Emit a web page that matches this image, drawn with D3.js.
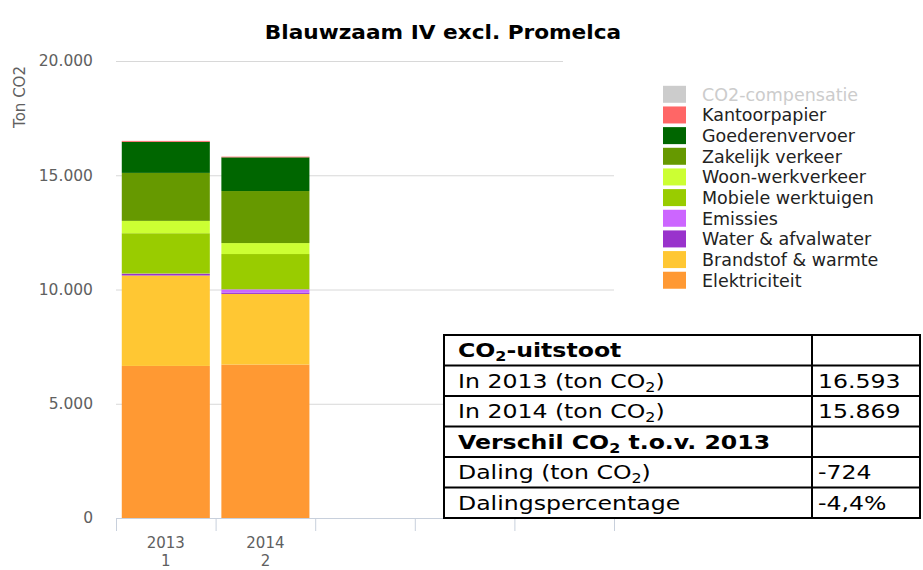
<!DOCTYPE html>
<html>
<head>
<meta charset="utf-8">
<script src="https://cdn.jsdelivr.net/npm/d3@7"></script>
<style>
  body { margin: 0; background: #fff; }
  svg { display: block; font-family: "DejaVu Sans", Verdana, sans-serif; }
</style>
</head>
<body>
<div id="chart"></div>
<script>
// categorieen op de x-as (jaar + volgnummer)
const years = ["2013", "2014", "", "", ""];
const yearNumbers = ["1", "2", "", "", ""];
const yTicks = [0, 5000, 10000, 15000, 20000];

// bronnen, onderaan de stapel eerst
const sources = ["Elektriciteit", "Brandstof & warmte", "Water & afvalwater", "Emissies",
  "Mobiele werktuigen", "Woon-werkverkeer", "Zakelijk verkeer", "Goederenvervoer",
  "Kantoorpapier", "CO2-compensatie"];
const colors = ["#ff9933", "#ffc733", "#9933cc", "#cc66ff",
  "#99cc00", "#ccff33", "#669900", "#006600",
  "#ff6666", "#cccccc"];

// ton CO2 per bron: [2013, 2014]
const elektriciteit = [6655, 6716];
const brandstof = [3958, 3091];
const water = [70, 60];
const emissies = [15, 140];
const mobiel = [1765, 1545];
const woonWerk = [540, 480];
const zakelijk = [2100, 2277];
const goederen = [1360, 1475];
const kantoorpapier = [40, 30];
const compensatie = [0, 0];   // verborgen reeks
const hidden = ["CO2-compensatie"];

// tabel rechtsonder
const tableLabels = ["CO₂-uitstoot", "In 2013 (ton CO₂)", "In 2014 (ton CO₂)",
  "Verschil CO₂ t.o.v. 2013", "Daling (ton CO₂)", "Dalingspercentage"];
const tableValues = ["", "16.593", "15.869", "", "-724", "-4,4%"];
const tableBold = [true, false, false, true, false, false];

const W = 923, H = 570;
const seriesValues = [elektriciteit, brandstof, water, emissies, mobiel, woonWerk,
  zakelijk, goederen, kantoorpapier, compensatie];

const rows = years.slice(0, 2).map((y, i) => {
  const r = { key: y + "|" + i };
  sources.forEach((s, j) => r[s] = hidden.includes(s) ? 0 : seriesValues[j][i]);
  return r;
});

const svg = d3.select("#chart").append("svg")
  .attr("width", W).attr("height", H);

const x = d3.scaleBand()
  .domain(years.map((y, i) => y + "|" + i))
  .range([116, 614])
  .paddingInner(0.116)
  .paddingOuter(0.058);

const y = d3.scaleLinear().domain([0, 20000]).range([518, 61]);
const fmt = d => d3.format(",")(d).replace(/,/g, ".");

// rasterlijnen
svg.append("g").selectAll("line")
  .data(yTicks.slice(1))
  .join("line")
  .attr("x1", 116).attr("x2", 614)
  .attr("y1", d => y(d) + 0.5).attr("y2", d => y(d) + 0.5)
  .attr("stroke", "#d8d8d8");

// y-as labels
svg.append("g").selectAll("text")
  .data(yTicks)
  .join("text")
  .attr("x", 93).attr("y", d => y(d))
  .attr("dy", "0.35em")
  .attr("text-anchor", "end")
  .attr("font-size", 15.5)
  .attr("fill", "#606060")
  .text(fmt);

svg.append("text")
  .attr("transform", "translate(25,97) rotate(-90)")
  .attr("text-anchor", "middle")
  .attr("font-size", 15)
  .attr("fill", "#606060")
  .text("Ton CO2");

// gestapelde balken
const stack = d3.stack().keys(sources)(rows);
svg.append("g").selectAll("g")
  .data(stack)
  .join("g")
  .attr("fill", (d, i) => colors[i])
  .selectAll("rect")
  .data(d => d)
  .join("rect")
  .attr("x", d => x(d.data.key))
  .attr("width", x.bandwidth())
  .attr("y", d => y(d[1]))
  .attr("height", d => y(d[0]) - y(d[1]));

// x-as
const step = x.step();
svg.append("line")
  .attr("x1", 116).attr("x2", 614)
  .attr("y1", 518.5).attr("y2", 518.5)
  .attr("stroke", "#c8d0dc");
svg.append("g").selectAll("line")
  .data(d3.range(years.length + 1))
  .join("line")
  .attr("x1", i => 116.5 + i * step).attr("x2", i => 116.5 + i * step)
  .attr("y1", 518).attr("y2", 531)
  .attr("stroke", "#c8d0dc");

const xl = svg.append("g").selectAll("text")
  .data(years.map((yy, i) => ({ key: yy + "|" + i, year: yy, nr: yearNumbers[i] })))
  .join("text")
  .attr("text-anchor", "middle")
  .attr("font-size", 15)
  .attr("fill", "#606060");
xl.append("tspan")
  .attr("x", d => x(d.key) + x.bandwidth() / 2).attr("y", 548)
  .text(d => d.year);
xl.append("tspan")
  .attr("x", d => x(d.key) + x.bandwidth() / 2).attr("y", 566)
  .text(d => d.nr);

// titel
svg.append("text")
  .attr("transform", "translate(443,39) scale(1.14,1)")
  .attr("text-anchor", "middle")
  .attr("font-size", 19)
  .attr("font-weight", "bold")
  .attr("fill", "#000")
  .text("Blauwzaam IV excl. Promelca");

// legenda (bovenste reeks eerst)
svg.append("rect")
  .attr("x", 563).attr("y", 52).attr("width", 360).attr("height", 20)
  .attr("fill", "#fff");
const legendItems = sources.map((s, i) => ({ name: s, color: colors[i] })).reverse();
const lg = svg.append("g").selectAll("g")
  .data(legendItems)
  .join("g")
  .attr("transform", (d, i) => `translate(663,${94.3 + i * 20.66})`);
lg.append("rect")
  .attr("x", 0).attr("y", -8.5)
  .attr("width", 23).attr("height", 17)
  .attr("fill", d => d.color);
lg.append("text")
  .attr("x", 39).attr("dy", "0.36em")
  .attr("font-size", 17.5)
  .attr("fill", d => hidden.includes(d.name) ? "#cccccc" : "#222")
  .text(d => d.name);

// tabel
const tx0 = 444, tx1 = 812, tx2 = 920, ty0 = 335, rowH = 30.5;
const tbl = svg.append("g");
tbl.append("rect")
  .attr("x", tx0).attr("y", ty0)
  .attr("width", tx2 - tx0).attr("height", rowH * tableLabels.length)
  .attr("fill", "#fff").attr("stroke", "#000").attr("stroke-width", 2);
tbl.selectAll("line.row")
  .data(d3.range(1, tableLabels.length))
  .join("line")
  .attr("class", "row")
  .attr("x1", tx0).attr("x2", tx2)
  .attr("y1", i => ty0 + i * rowH).attr("y2", i => ty0 + i * rowH)
  .attr("stroke", "#000").attr("stroke-width", 2);
tbl.append("line")
  .attr("x1", tx1).attr("x2", tx1)
  .attr("y1", ty0).attr("y2", ty0 + rowH * tableLabels.length)
  .attr("stroke", "#000").attr("stroke-width", 2);

tableLabels.forEach((lab, i) => {
  const t = tbl.append("text")
    .attr("transform", `translate(${tx0 + 14},${ty0 + i * rowH + 22}) scale(1.18,1)`)
    .attr("font-size", 20)
    .attr("font-weight", tableBold[i] ? "bold" : "normal")
    .attr("fill", "#000");
  lab.split("₂").forEach((part, k) => {
    if (k > 0) {
      t.append("tspan").attr("font-size", 13.5).attr("dy", 4).text("2");
      t.append("tspan").attr("dy", -4).text(part);
    } else {
      t.append("tspan").text(part);
    }
  });
  tbl.append("text")
    .attr("transform", `translate(${tx1 + 6},${ty0 + i * rowH + 22}) scale(1.18,1)`)
    .attr("font-size", 20)
    .attr("fill", "#000")
    .text(tableValues[i]);
});
</script>
</body>
</html>
